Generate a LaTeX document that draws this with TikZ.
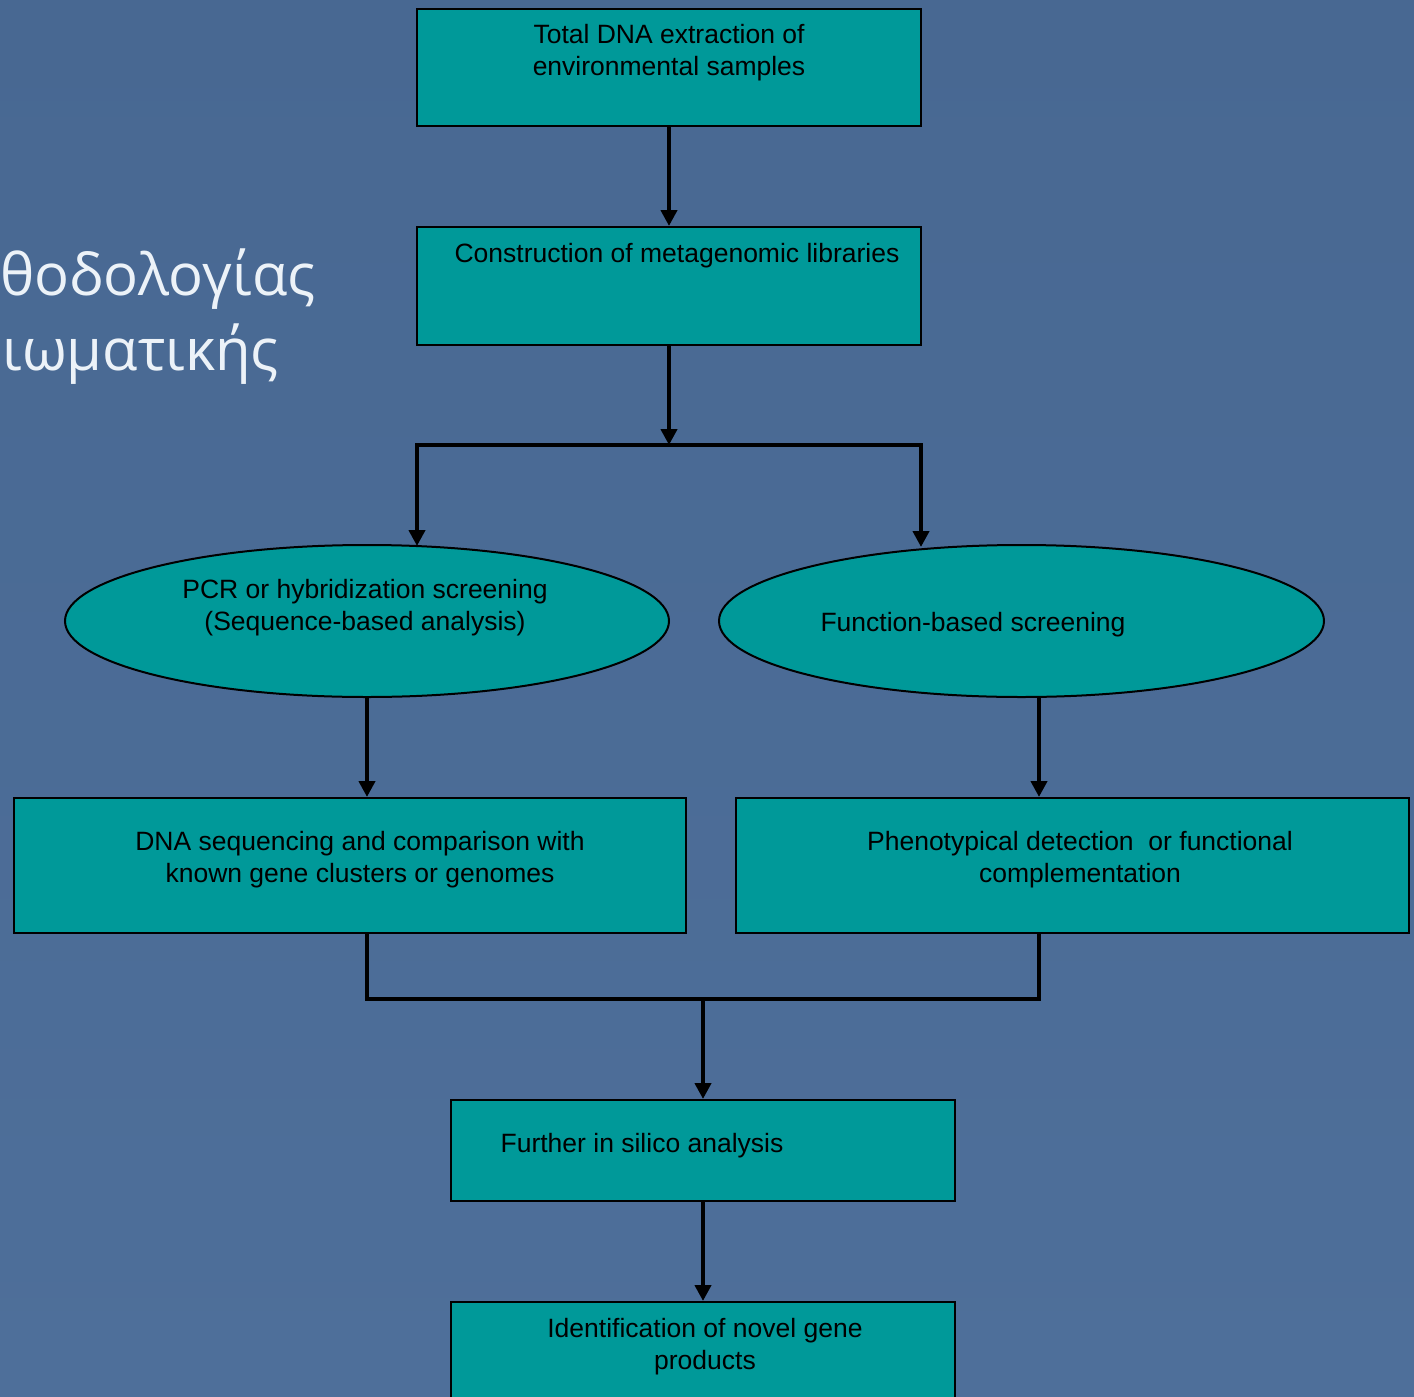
\documentclass[tikz,border=0pt]{standalone}
\usepackage{fontspec}
\setmainfont{Liberation Sans}
\newfontfamily\greekfont{Open Sans}
\usetikzlibrary{shapes.geometric,arrows.meta}
\definecolor{bgtop}{RGB}{72,104,146}
\definecolor{bgmid}{RGB}{92,127,168}
\definecolor{bgbot}{RGB}{78,111,154}
\definecolor{boxteal}{RGB}{0,153,153}
\definecolor{greektext}{RGB}{236,242,248}
\begin{document}
\begin{tikzpicture}[x=0.5pt,y=-0.5pt,
  box/.style={draw=black, line width=1pt, fill=boxteal, rectangle, inner sep=0pt},
  oval/.style={draw=black, line width=1pt, fill=boxteal, ellipse, inner sep=0pt},
  lbl/.style={font=\fontsize{13.25pt}{16pt}\selectfont, align=center, inner sep=0pt, text=black},
  greek/.style={font=\greekfont\fontsize{29pt}{35pt}\selectfont, text=greektext, inner sep=0pt, anchor=base west},
  conn/.style={line width=2pt, draw=black},
  arr/.style={conn, -{Triangle[length=8pt,width=8pt]}}]
\useasboundingbox (0,0) rectangle (1414,1397);
\clip (0,0) rectangle (1414,1397);
\shade[top color=bgtop, middle color=bgmid, bottom color=bgbot] (0,0) rectangle (1414,1397);

% Greek title fragment (cut off at the left edge)
\node[greek] (g1) at (0,295) {θοδολογίας};
\node[greek] (g2) at (2,370) {ιωματικής};

% boxes
\node[box, minimum width=252pt, minimum height=58.5pt] (b1) at (669,67.5) {};
\node[lbl] (t1) at (669,53) {Total DNA extraction of\\environmental samples};
\node[box, minimum width=252pt, minimum height=59pt] (b2) at (669,286) {};
\node[lbl] (t2) at (677,256) {Construction of metagenomic libraries};

\node[oval, minimum width=302pt, minimum height=76pt] (e1) at (367,621) {};
\node[lbl] (t3) at (365,608) {PCR or hybridization screening\\(Sequence-based analysis)};
\node[oval, minimum width=302.5pt, minimum height=76pt] (e2) at (1021.5,621) {};
\node[lbl] (t4) at (973,625) {Function-based screening};

\node[box, minimum width=336pt, minimum height=67.5pt] (b3) at (350,865.5) {};
\node[lbl] (t5) at (360,860) {DNA sequencing and comparison with\\known gene clusters or genomes};
\node[box, minimum width=336.5pt, minimum height=67.5pt] (b4) at (1072.5,865.5) {};
\node[lbl] (t6) at (1080,860) {Phenotypical detection\ \ or functional\\complementation};

\node[box, minimum width=252pt, minimum height=50.5pt] (b5) at (703,1150.5) {};
\node[lbl] (t7) at (642,1146) {Further in silico analysis};
\node[box, minimum width=252pt, minimum height=60pt] (b6) at (703,1362) {};
\node[lbl] (t8) at (705,1347) {Identification of novel gene\\products};

% connectors
\coordinate (split) at (669,445);
\coordinate (sl) at (417,445);
\coordinate (sr) at (921,445);
\coordinate (e1in) at (417,546);
\coordinate (e2in) at (921,547);
\coordinate (e2out) at (1039,697);
\coordinate (b3out) at (367,933);
\coordinate (b4out) at (1039,933);
\coordinate (ml) at (367,999);
\coordinate (mr) at (1039,999);
\coordinate (merge) at (703,999);

\draw[arr] (b1.south) -- (b2.north);
\draw[arr] (b2.south) -- (split);
\draw[conn, line cap=rect] (sl) -- (sr);
\draw[arr] (sl) -- (e1in);
\draw[arr] (sr) -- (e2in);
\draw[arr] (e1.south) -- (e1.south |- b3.north);
\draw[arr] (e2out) -- (e2out |- b4.north);
\draw[conn, line join=miter] (b3out) -- (ml) -- (mr) -- (b4out);
\draw[arr] (merge) -- (b5.north);
\draw[arr] (b5.south) -- (b6.north);
\end{tikzpicture}
\end{document}
